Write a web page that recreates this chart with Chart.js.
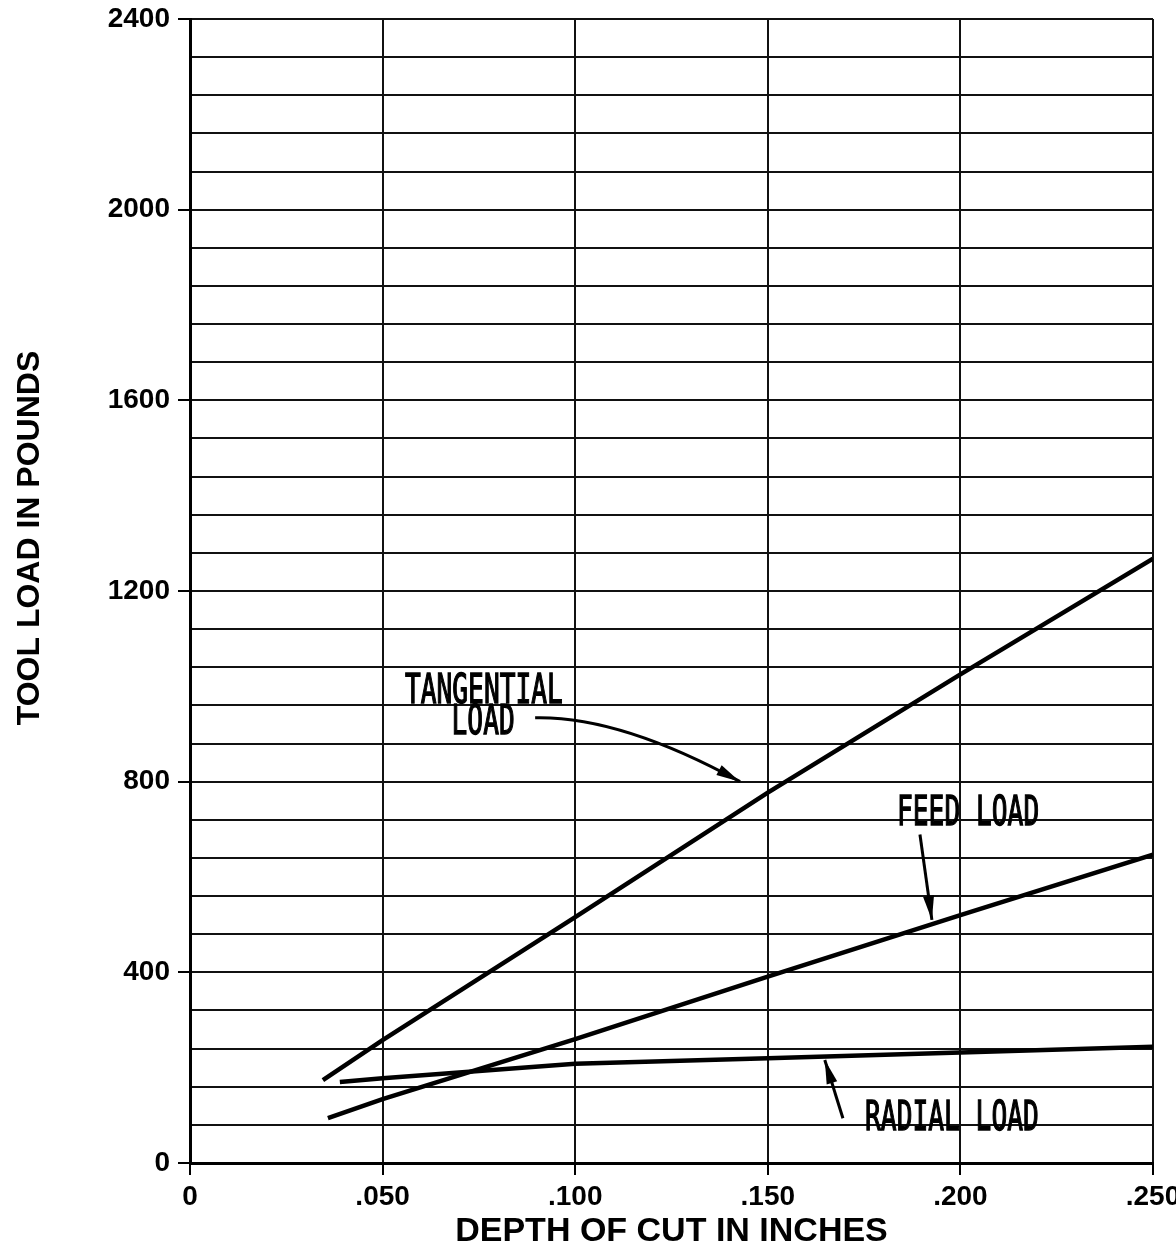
<!DOCTYPE html>
<html lang="en">
<head>
  <meta charset="UTF-8" />
  <title>Tool Load vs Depth of Cut</title>
  <script src="https://cdn.jsdelivr.net/npm/chart.js"></script>
  <style>
    body { margin: 0; background: #fff; }
    .chart-container { width: 1176px; height: 1256px; }
  </style>
</head>
<body>
  <div class="chart-container">
    <canvas id="loadChart"></canvas>
  </div>

  <script>
    // depth of cut (in) / load (lb)
    const tangentialDepth = [0.0345, 0.05, 0.10, 0.15, 0.20, 0.25];
    const tangentialLoad  = [174, 258, 516, 777, 1025, 1268];
    const feedDepth = [0.0358, 0.05, 0.10, 0.15, 0.20, 0.25];
    const feedLoad  = [94, 134, 260, 391, 520, 647];
    const radialDepth = [0.0389, 0.05, 0.10, 0.15, 0.20, 0.25];
    const radialLoad  = [170, 178, 208, 220, 232, 244];

    const yLabelStep = 400;   // labelled y ticks
    const yGridStep = 80;     // ruled lines
    const xStep = 0.05;

    // callout labels, placed in data units [depth, load]
    const notes = [
      { text: 'TANGENTIAL', at: [0.0763, 964] },
      { text: 'LOAD', at: [0.0761, 899] },
      { text: 'FEED LOAD', at: [0.2020, 710] },
      { text: 'RADIAL LOAD', at: [0.1978, 69] }
    ];
    // arrows: from -> (control) -> tip, in data units
    const arrows = [
      { from: [0.0896, 934], ctrl: [0.1116, 938], to: [0.1428, 800] },
      { from: [0.1895, 689], to: [0.1926, 510] },
      { from: [0.1695, 94], to: [0.1648, 216] }
    ];

    const toPoints = (xs, ys) => xs.map((x, i) => ({ x: x, y: ys[i] }));

    const lineStyle = {
      showLine: true,
      borderColor: '#000',
      borderWidth: 4.5,
      pointRadius: 0,
      tension: 0,
      fill: false
    };

    const tickFont = { family: '"Liberation Sans", Arial, sans-serif', size: 28, weight: 'bold' };

    // hand lettering + arrows + rotated y title
    const calloutPlugin = {
      id: 'callouts',
      afterDatasetsDraw(chart) {
        const ctx = chart.ctx;
        const xs = chart.scales.x, ys = chart.scales.y;
        const px = v => xs.getPixelForValue(v);
        const py = v => ys.getPixelForValue(v);

        ctx.save();
        ctx.fillStyle = '#000';
        ctx.strokeStyle = '#000';
        ctx.font = '41px "DejaVu Sans Mono", monospace';
        ctx.textAlign = 'center';
        ctx.textBaseline = 'alphabetic';
        ctx.lineWidth = 1.4;
        notes.forEach(n => {
          ctx.save();
          ctx.translate(px(n.at[0]), py(n.at[1]));
          ctx.scale(0.64, 1);
          ctx.fillText(n.text, 0, 0);
          ctx.strokeText(n.text, 0, 0);
          ctx.restore();
        });

        ctx.lineWidth = 3;
        arrows.forEach(a => {
          const x0 = px(a.from[0]), y0 = py(a.from[1]);
          const x1 = px(a.to[0]), y1 = py(a.to[1]);
          let dx, dy;
          ctx.beginPath();
          ctx.moveTo(x0, y0);
          if (a.ctrl) {
            const cx = px(a.ctrl[0]), cy = py(a.ctrl[1]);
            ctx.quadraticCurveTo(cx, cy, x1, y1);
            dx = x1 - cx; dy = y1 - cy;
          } else {
            ctx.lineTo(x1, y1);
            dx = x1 - x0; dy = y1 - y0;
          }
          ctx.stroke();
          const len = Math.hypot(dx, dy);
          const ux = dx / len, uy = dy / len;
          const hl = 24, hw = 5.5;
          ctx.beginPath();
          ctx.moveTo(x1, y1);
          ctx.lineTo(x1 - ux * hl - uy * hw, y1 - uy * hl + ux * hw);
          ctx.lineTo(x1 - ux * hl + uy * hw, y1 - uy * hl - ux * hw);
          ctx.closePath();
          ctx.fill();
        });

        ctx.font = 'bold 32px "Liberation Sans", Arial, sans-serif';
        ctx.translate(30, 538);
        ctx.rotate(-Math.PI / 2);
        ctx.textAlign = 'center';
        ctx.textBaseline = 'middle';
        ctx.fillText('TOOL LOAD IN POUNDS', 0, 0);
        ctx.restore();
      }
    };

    new Chart(document.getElementById('loadChart'), {
      type: 'scatter',
      data: {
        datasets: [
          Object.assign({ label: 'Tangential load', data: toPoints(tangentialDepth, tangentialLoad) }, lineStyle),
          Object.assign({ label: 'Feed load', data: toPoints(feedDepth, feedLoad) }, lineStyle),
          Object.assign({ label: 'Radial load', data: toPoints(radialDepth, radialLoad) }, lineStyle)
        ]
      },
      options: {
        responsive: true,
        maintainAspectRatio: false,
        animation: false,
        layout: { padding: { top: 19, right: 23, left: 0, bottom: 0 } },
        plugins: {
          legend: { display: false },
          tooltip: { enabled: false }
        },
        scales: {
          x: {
            type: 'linear',
            min: 0,
            max: 0.25,
            afterFit: scale => {
              scale.height = 93;
              scale.paddingRight = 0;   // let ".250" hang off like the original
              scale.paddingLeft = 0;
            },
            ticks: {
              stepSize: xStep,
              color: '#000',
              font: tickFont,
              padding: 5,
              callback: v => v === 0 ? '0' : v.toFixed(3).replace(/^0/, '')
            },
            grid: { color: '#111', lineWidth: 2, tickLength: 12, tickColor: '#000', tickWidth: 2 },
            border: { color: '#000', width: 3 },
            title: {
              display: true,
              text: 'DEPTH OF CUT IN INCHES',
              color: '#000',
              font: { family: '"Liberation Sans", Arial, sans-serif', size: 34, weight: 'bold' },
              padding: { top: 0, bottom: 4 }
            }
          },
          y: {
            min: 0,
            max: 2400,
            afterFit: scale => {
              scale.width = 190;
              scale.paddingTop = 0;
              scale.paddingBottom = 0;
            },
            ticks: {
              stepSize: yGridStep,
              autoSkip: false,
              color: '#000',
              font: tickFont,
              padding: 8,
              callback: v => v % yLabelStep === 0 ? String(v) : ''
            },
            grid: {
              color: '#111',
              lineWidth: 2,
              tickLength: 12,
              tickWidth: 2,
              tickColor: c => c.tick && c.tick.value % yLabelStep === 0 ? '#000' : 'rgba(0,0,0,0)'
            },
            border: { color: '#000', width: 3 }
          }
        }
      },
      plugins: [calloutPlugin]
    });
  </script>
</body>
</html>
